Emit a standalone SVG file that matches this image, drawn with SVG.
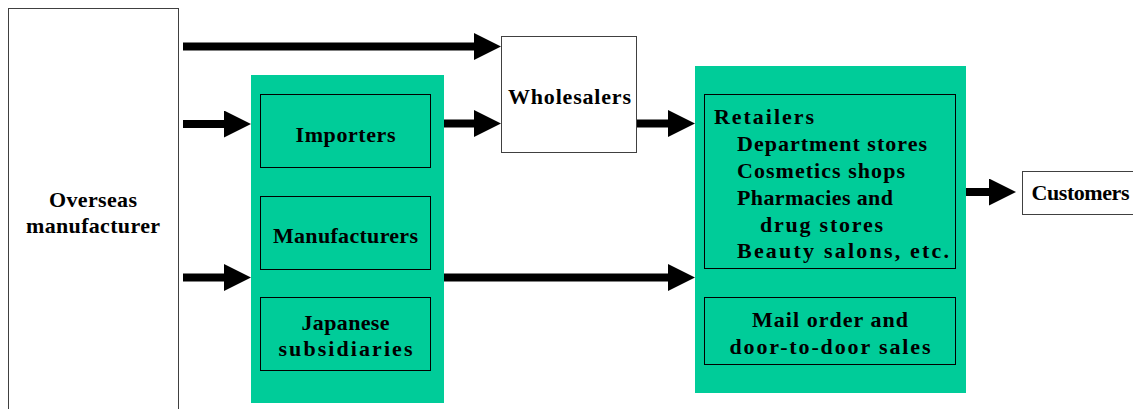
<svg xmlns="http://www.w3.org/2000/svg" width="1133" height="409" viewBox="0 0 1133 409">
<style>
.t{font-family:"Liberation Serif","Times New Roman",serif;font-weight:bold;font-size:22px;fill:#000}
.m{text-anchor:middle}
.green{fill:#00CC99}
.box{fill:#00CC99;stroke:#000;stroke-width:1}
.wbox{fill:#fff;stroke:#404040;stroke-width:1}
.arr{stroke:#000;stroke-width:8;fill:none;marker-end:url(#ah)}
</style>
<defs>
<marker id="ah" viewBox="0 0 27 27" refX="7" refY="13.5" markerWidth="27" markerHeight="27" markerUnits="userSpaceOnUse" orient="auto">
<path d="M0,0 L27,13.5 L0,27 Z" fill="#000"/>
</marker>
</defs>
<g id="overseas">
<rect class="wbox" x="8.5" y="8.5" width="170" height="410"/>
<text class="t m" x="93" y="207" textLength="88" lengthAdjust="spacing">Overseas</text>
<text class="t m" x="93" y="233" textLength="134" lengthAdjust="spacing">manufacturer</text>
</g>
<g id="japan-group">
<rect class="green" x="251" y="75" width="193" height="328"/>
</g>
<g id="importers">
<rect class="box" x="260.5" y="94.5" width="170" height="73"/>
<text class="t m" x="345.5" y="142" textLength="100" lengthAdjust="spacing">Importers</text>
</g>
<g id="manufacturers">
<rect class="box" x="260.5" y="196.5" width="170" height="73"/>
<text class="t m" x="345.5" y="243" textLength="145" lengthAdjust="spacing">Manufacturers</text>
</g>
<g id="subsidiaries">
<rect class="box" x="260.5" y="297.5" width="170" height="73"/>
<text class="t m" x="345.5" y="330" textLength="88" lengthAdjust="spacing">Japanese</text>
<text class="t m" x="345.5" y="356" textLength="134" lengthAdjust="spacing">subsidiaries</text>
</g>
<g id="wholesalers">
<rect class="wbox" x="501.5" y="36.5" width="135" height="116"/>
<text class="t m" x="569.5" y="104" textLength="123" lengthAdjust="spacing">Wholesalers</text>
</g>
<g id="retail-group">
<rect class="green" x="695" y="66" width="271" height="327"/>
</g>
<g id="retailers">
<rect class="box" x="704.5" y="94.5" width="251" height="174"/>
<text class="t" x="714" y="124" textLength="100" lengthAdjust="spacing">Retailers</text>
<text class="t" x="737" y="151" textLength="190" lengthAdjust="spacing">Department stores</text>
<text class="t" x="737" y="178" textLength="168" lengthAdjust="spacing">Cosmetics shops</text>
<text class="t" x="737" y="205" textLength="156" lengthAdjust="spacing">Pharmacies and</text>
<text class="t" x="760" y="232" textLength="123" lengthAdjust="spacing">drug stores</text>
<text class="t" x="737" y="258" textLength="212" lengthAdjust="spacing">Beauty salons, etc.</text>
</g>
<g id="mailorder">
<rect class="box" x="704.5" y="297.5" width="251" height="67"/>
<text class="t m" x="830" y="327" textLength="156" lengthAdjust="spacing">Mail order and</text>
<text class="t m" x="830" y="354" textLength="201" lengthAdjust="spacing">door-to-door sales</text>
</g>
<g id="customers">
<rect class="wbox" x="1022.5" y="171.5" width="120" height="43"/>
<text class="t" x="1031.5" y="200" textLength="98" lengthAdjust="spacing">Customers</text>
</g>
<g id="connectors">
<line class="arr" x1="183" y1="46.5" x2="481" y2="46.5"/>
<line class="arr" x1="183" y1="124" x2="231" y2="124"/>
<line class="arr" x1="183" y1="277.5" x2="231" y2="277.5"/>
<line class="arr" x1="444" y1="123.5" x2="481" y2="123.5"/>
<line class="arr" x1="637" y1="123.5" x2="675" y2="123.5"/>
<line class="arr" x1="444" y1="277.5" x2="675" y2="277.5"/>
<line class="arr" x1="966" y1="192" x2="996" y2="192"/>
</g>
</svg>
